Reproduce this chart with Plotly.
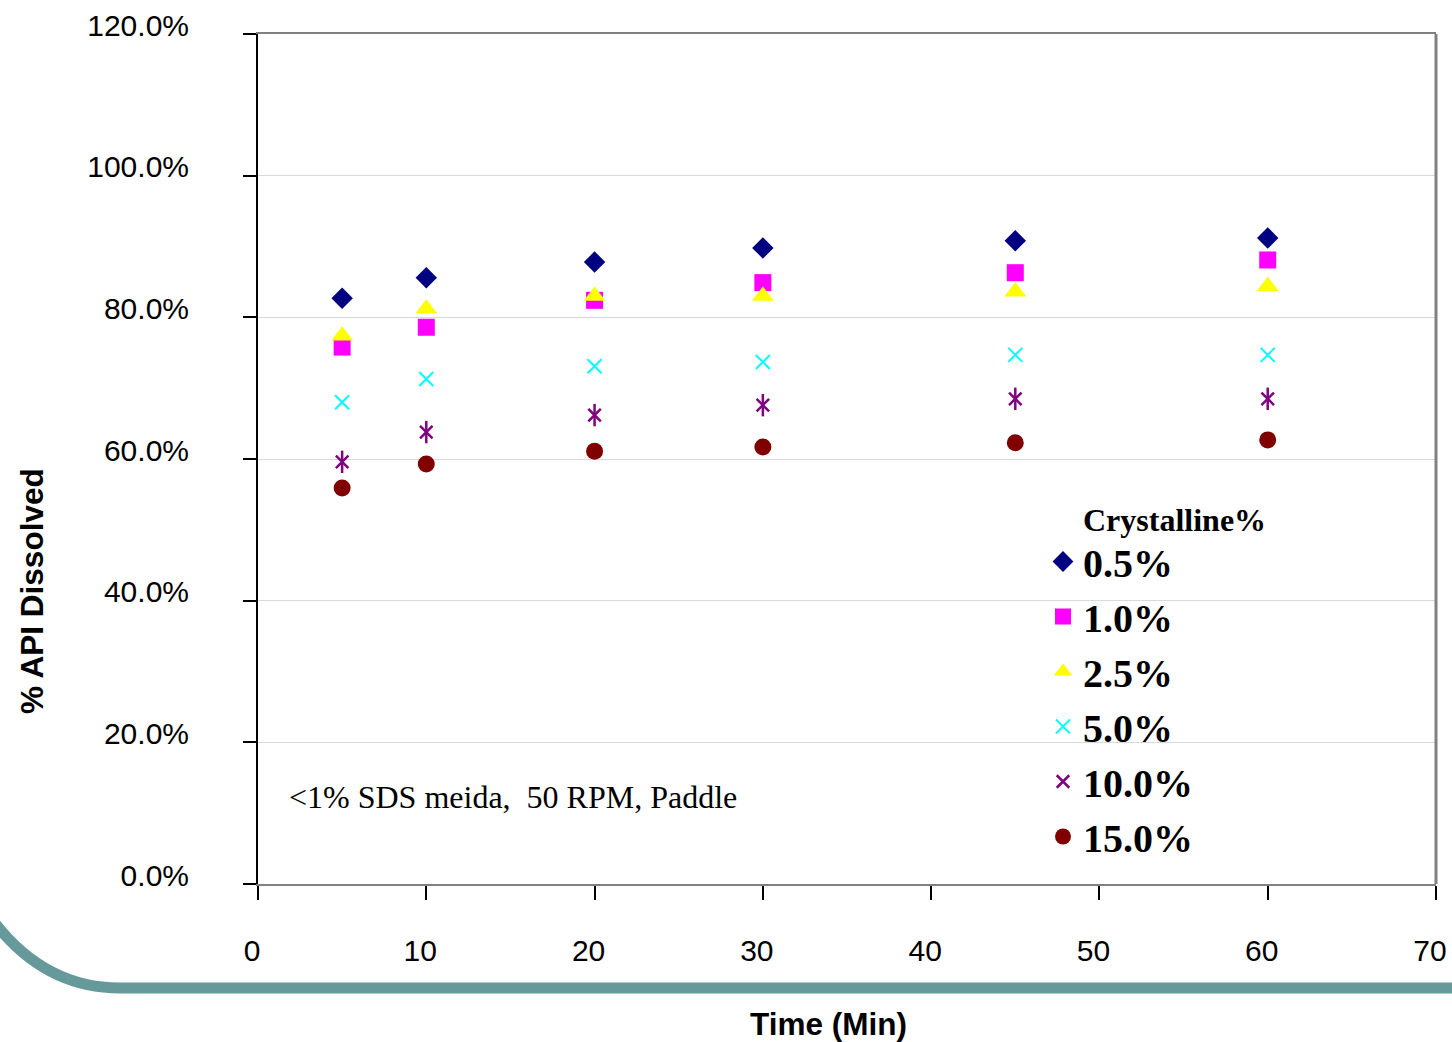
import plotly.graph_objects as go

time_min = [5, 10, 20, 30, 45, 60]
s_05 = [82.7, 85.6, 87.8, 89.8, 90.8, 91.2]
s_10 = [75.8, 78.6, 82.4, 84.9, 86.3, 88.1]
s_25 = [77.4, 81.2, 83.0, 83.0, 83.6, 84.4]
s_50 = [68.0, 71.3, 73.1, 73.7, 74.7, 74.7]
s_100 = [59.6, 63.8, 66.2, 67.6, 68.5, 68.5]
s_150 = [55.9, 59.3, 61.1, 61.7, 62.3, 62.7]
series_names = ["0.5%", "1.0%", "2.5%", "5.0%", "10.0%", "15.0%"]
y_ticks = [0, 20, 40, 60, 80, 100, 120]
y_tick_text = ["0.0%", "20.0%", "40.0%", "60.0%", "80.0%", "100.0%", "120.0%"]
x_ticks = [0, 10, 20, 30, 40, 50, 60, 70]

SANS = "Liberation Sans, Arial, sans-serif"
SERIF = "Liberation Serif, Times New Roman, serif"

fig = go.Figure()

def add(y, name, symbol, size, color, line_w=0, show=True, group=None):
    marker = dict(symbol=symbol, size=size, color=color)
    if symbol.endswith("-open"):
        marker["line"] = dict(color=color, width=line_w)
    else:
        marker["line"] = dict(width=0)
    fig.add_trace(go.Scatter(x=time_min, y=y, mode="markers", name=name,
                             marker=marker, showlegend=show,
                             legendgroup=group if group else name))

add(s_05, series_names[0], "diamond", 16.5, "#000080")
add(s_10, series_names[1], "square", 17, "#FF00FF")
add(s_25, series_names[2], "triangle-up", 19, "#FFFF00")
add(s_50, series_names[3], "x-thin-open", 14, "#00FFFF", 2)
add(s_100, series_names[4], "x-thin-open", 12.5, "#800080", 2.5)
add(s_100, series_names[4], "line-ns-open", 16, "#800080", 2.5, show=False, group=series_names[4])
add(s_150, series_names[5], "circle", 17, "#800000")

L, R, T, B = 258, 16, 34, 158
W, H = 1452, 1042
pw, ph = W - L - R, H - T - B

def px(x):
    return (x - L) / pw

def py(y):
    return (H - B - y) / ph

swoosh = "M {:.4f},{:.4f} Q {:.4f},{:.4f} {:.4f},{:.4f} L {:.4f},{:.4f}".format(
    px(-6), py(922), px(45), py(988), px(120), py(988), px(1470), py(988))

fig.update_layout(
    width=W, height=H, autosize=False,
    margin=dict(l=L, r=R, t=T, b=B, autoexpand=False),
    paper_bgcolor="white", plot_bgcolor="white",
    xaxis=dict(range=[0, 70], tickvals=x_ticks, showgrid=False, zeroline=False,
               showline=True, linecolor="#808080", linewidth=2, mirror=True,
               ticks="outside", ticklen=14, tickwidth=1.5, tickcolor="black",
               tickfont=dict(family=SANS, size=30, color="black"),
               ticklabelstandoff=25, ticklabelshift=-6,
               ticklabeloverflow="allow", automargin=False),
    yaxis=dict(range=[0, 120], tickvals=y_ticks, ticktext=y_tick_text,
               showgrid=True, gridcolor="#d9d9d9", gridwidth=1, zeroline=False,
               showline=True, linecolor="black", linewidth=2,
               ticks="outside", ticklen=13, tickwidth=1.5, tickcolor="black",
               tickfont=dict(family=SANS, size=30, color="black"),
               ticklabelstandoff=48, ticklabelshift=-9, automargin=False),
    legend=dict(x=px(1043), y=py(529), xanchor="left", yanchor="top",
                bgcolor="rgba(0,0,0,0)", borderwidth=0, tracegroupgap=0,
                font=dict(family=SERIF, size=40, color="black", weight="bold"),
                itemsizing="trace"),
    showlegend=True,
    shapes=[
        dict(type="line", xref="paper", yref="paper", x0=1, x1=1, y0=0, y1=1,
             line=dict(color="#808080", width=3)),
        dict(type="path", xref="paper", yref="paper", path=swoosh,
             line=dict(color="#669999", width=11), layer="below"),
    ],
    annotations=[
        dict(text="<b>% API Dissolved</b>", xref="paper", yref="paper",
             x=px(32), y=py(591), textangle=-90, showarrow=False,
             xanchor="center", yanchor="middle",
             font=dict(family=SANS, size=31.5, color="black")),
        dict(text="<b>Time (Min)</b>", xref="paper", yref="paper",
             x=px(828), y=py(1024), showarrow=False,
             xanchor="center", yanchor="middle",
             font=dict(family=SANS, size=31.5, color="black")),
        dict(text="<1% SDS meida,\u00a0 50 RPM, Paddle", xref="paper", yref="paper",
             x=px(287), y=py(797), showarrow=False,
             xanchor="left", yanchor="middle",
             font=dict(family=SERIF, size=32, color="black")),
        dict(text="<b>Crystalline%</b>", xref="paper", yref="paper",
             x=px(1081), y=py(520), showarrow=False,
             xanchor="left", yanchor="middle",
             font=dict(family=SERIF, size=32, color="black")),
    ],
)

fig.write_html("out.html")
